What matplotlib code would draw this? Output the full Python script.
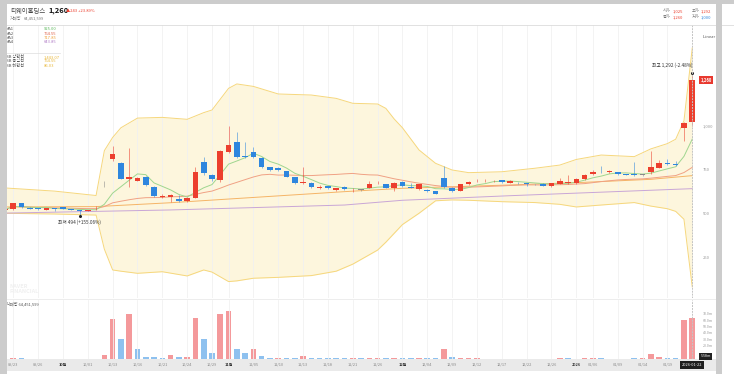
import numpy as np
import pandas as pd
import matplotlib.pyplot as plt
from matplotlib.patches import Rectangle

plt.rcParams['font.family'] = ['Noto Sans CJK KR', 'DejaVu Sans']

# daily candles, index 0 = first visible day
opens = [522, 528, 561, 532, 530, 523, 531, 538, 528, 523, 517, 526,
         686, 811, 788, 700, 689, 712, 655, 598, 595, 585, 574, 593,
         797, 722, 693, 854, 911, 830, 854, 820, 765, 763, 744, 708,
         674, 678, 648, 659, 638, 655, 640, 636, 649, 674, 669, 649,
         680, 649, 640, 634, 629, 703, 649, 632, 669, 686, 686, 686,
         691, 678, 676, 672, 670, 672, 661, 672, 676, 674, 699, 727,
         738, 737, 737, 726, 726, 722, 737, 763, 790, 784, 990, 1025]
highs = [535, 565, 565, 538, 532, 535, 533, 540, 530, 525, 525, 545,
         686, 886, 795, 873, 712, 715, 660, 615, 612, 606, 596, 769,
         826, 730, 862, 1000, 968, 911, 879, 822, 768, 766, 746, 710,
         769, 680, 662, 661, 650, 660, 648, 640, 690, 690, 672, 684,
         690, 676, 672, 640, 632, 773, 655, 672, 688, 700, 698, 692,
         695, 692, 682, 675, 672, 675, 678, 705, 722, 705, 725, 748,
         773, 750, 740, 730, 794, 725, 858, 807, 812, 801, 1025, 1292]
lows = [515, 525, 535, 526, 525, 520, 515, 528, 520, 494, 515, 524,
        655, 800, 698, 655, 685, 660, 595, 590, 570, 570, 570, 590,
        720, 690, 684, 845, 820, 818, 820, 760, 745, 745, 708, 670,
        670, 648, 640, 640, 632, 636, 625, 630, 645, 670, 645, 630,
        655, 645, 638, 625, 612, 645, 625, 630, 665, 684, 684, 684,
        678, 675, 670, 660, 665, 658, 655, 668, 672, 670, 695, 722,
        735, 733, 722, 720, 715, 718, 730, 760, 780, 775, 916, 1000]
closes = [525, 561, 538, 530, 528, 532, 529, 530, 523, 517, 523, 528,
          686, 839, 700, 708, 706, 665, 604, 602, 608, 576, 593, 737,
          731, 699, 858, 892, 826, 824, 826, 765, 750, 752, 712, 678,
          680, 655, 653, 646, 645, 640, 642, 636, 669, 676, 649, 678,
          657, 647, 669, 632, 614, 652, 632, 669, 684, 689, 689, 688,
          680, 689, 674, 670, 669, 661, 674, 689, 680, 699, 720, 740,
          737, 743, 726, 722, 721, 722, 769, 788, 783, 780, 1017, 1260]
volumes = [0.6, 1.2, 0.8, 0.4, 0.3, 0.3, 0.3, 0.4, 0.3, 0.5, 0.3, 0.5,
           6.0, 63, 32, 71, 16, 3.2, 3.0, 1.6, 6.0, 3.0, 3.5, 64,
           32, 9.0, 70, 75, 16, 9.0, 15, 4.0, 2.2, 2.2, 2.0, 2.0,
           5.0, 1.2, 1.2, 1.0, 1.0, 1.0, 0.9, 0.9, 1.2, 1.0, 1.0, 1.2,
           1.0, 1.0, 1.0, 1.2, 1.2, 15, 2.5, 2.0, 1.5, 1.0, 0.5, 0.5,
           0.5, 0.5, 0.5, 0.4, 0.4, 0.4, 0.5, 1.0, 1.0, 0.5, 1.0, 1.0,
           1.0, 0.6, 0.6, 0.5, 2.0, 0.8, 8.0, 2.5, 1.0, 1.0, 61, 64.45]

# bollinger band and long moving averages
band_idx = [0, 6, 11, 12, 13, 14, 16, 19, 22, 24, 25, 27, 28, 30, 33, 37, 40, 42,
            45, 46, 47, 48, 50, 52, 54, 56, 60, 64, 67, 69, 72, 76, 78, 80, 81, 82, 83]
band_up = [648, 630, 605, 860, 935, 990, 1045, 1049, 1038, 1076, 1091, 1214, 1239,
           1225, 1182, 1176, 1157, 1129, 1125, 1100, 1040, 990, 864, 788, 750, 735,
           740, 760, 778, 810, 835, 826, 870, 900, 925, 1030, 1443]
band_lo = [504, 500, 494, 300, 182, 175, 163, 172, 148, 182, 170, 116, 120, 135,
           140, 150, 175, 215, 295, 340, 390, 440, 504, 575, 580, 578, 570, 565,
           555, 540, 551, 565, 545, 530, 515, 470, 86]
ma3_idx = [0, 11, 20, 41, 48, 61, 70, 78, 83]
ma3_val = [540, 542, 564, 627, 646, 665, 680, 697, 718]
ma4_idx = [0, 20, 41, 48, 61, 83]
ma4_val = [505, 523, 551, 578, 604, 644]

tick_idx = [1, 4, 7, 10, 13, 16, 19, 22, 25, 27, 30, 33, 36, 39, 42, 45, 48, 51,
            54, 57, 60, 63, 66, 69, 71, 74, 77, 80]
tick_lab = ['09/23', '09/26', '10월', '10/01', '10/13', '10/16', '10/21', '10/24',
            '10/29', '11월', '11/05', '11/10', '11/13', '11/18', '11/21', '11/26',
            '12월', '12/04', '12/09', '12/12', '12/17', '12/22', '12/26', '2026',
            '01/06', '01/09', '01/14', '01/19']
bold_ticks = ['10월', '11월', '12월', '2026']

RED = '#ec3f2e'
BLUE = '#2e86de'
W, H = 734, 374


def fx(px):
    return px / W


def fy(py):
    return 1 - py / H


fig = plt.figure(figsize=(W / 100, H / 100), dpi=100)
fig.patch.set_facecolor('white')

x = np.arange(len(closes))
c = pd.Series(closes, dtype=float)
ma5 = c.rolling(5, min_periods=1).mean()
ma20 = c.rolling(20, min_periods=1).mean()

# ---------- price panel
ax = fig.add_axes([fx(0), fy(298), fx(697), (298 - 25) / H])
ax.set_xlim(-5 / 8.28, 692 / 8.28)
ax.set_ylim(22.7, 1573.9)
for s in ax.spines.values():
    s.set_visible(False)
ax.set_xticks(tick_idx)
ax.set_yticks([])
ax.tick_params(length=0, labelbottom=False)
ax.grid(axis='x', color='#f1f1f1', lw=0.6)

ax.fill_between(band_idx, band_lo, band_up, color='#fdf6dd', lw=0, zorder=1)
ax.plot(band_idx, band_up, color='#f6d77c', lw=0.7, zorder=2)
ax.plot(band_idx, band_lo, color='#f6d77c', lw=0.7, zorder=2)
ax.plot(ma4_idx, ma4_val, color='#c9a6d6', lw=0.7, zorder=3)
ax.plot(ma3_idx, ma3_val, color='#f5b466', lw=0.7, zorder=3)
ax.plot(x, ma20, color='#f0a184', lw=0.7, zorder=3)
ax.plot(x, ma5, color='#9fd68f', lw=0.7, zorder=3)

for i in range(len(closes)):
    o, h, l, cl = opens[i], highs[i], lows[i], closes[i]
    if cl > o:
        col = RED
    elif cl < o:
        col = BLUE
    else:
        col = '#8a8a8a'
    ax.vlines(i, l, h, color=col, lw=0.7, alpha=0.55, zorder=4)
    ax.bar(i, max(abs(cl - o), 4), bottom=min(o, cl), width=0.68, color=col, lw=0, zorder=5)

# high / low markers
imax = int(np.argmax(highs))
imin = int(np.argmin(lows))
ax.plot([imax], [highs[imax] + 10], 'o', ms=1.2, color='#222222', zorder=6)
ax.text(imax, highs[imax] + 38, '최고 {:,} (-2.48%)'.format(highs[imax]), fontsize=3.4,
        ha='right', va='bottom', color='#333333', zorder=6)
ax.plot([imin], [lows[imin] - 8], 'o', ms=1.2, color='#222222', zorder=6)
ax.text(imin, lows[imin] - 25, '최저 {:,} (+155.06%)'.format(lows[imin]), fontsize=3.4,
        ha='center', va='top', color='#333333', zorder=6)

ax.axvline(len(closes) - 1, color='#c4c4c4', lw=0.7, ls=(0, (2, 1)), zorder=7)

for v, lab in [(1000, '1,000'), (750, '750'), (500, '500'), (250, '250')]:
    ax.text(1.008, v, lab, transform=ax.get_yaxis_transform(), fontsize=3,
            color='#999999', ha='left', va='center')
ax.text(1.005, closes[-1], '{:,}'.format(closes[-1]), transform=ax.get_yaxis_transform(),
        fontsize=3, color='white', ha='left', va='center', fontweight='bold',
        bbox=dict(boxstyle='square,pad=0.35', fc='#e8392f', ec='none'))
ax.text(1.008, 1505, 'Linear ∨', transform=ax.get_yaxis_transform(), fontsize=3,
        color='#555555', ha='left', va='center')

# legend block
leg = [('MA1', '925.00', '#5cb85c'), ('MA2', '764.55', '#e0634a'),
       ('MA3', '717.85', '#f0a03c'), ('MA4', '643.85', '#b07cc6')]
for k, (n, val, col) in enumerate(leg):
    fig.text(fx(6), fy(29.5 + 4.3 * k), n, fontsize=3, color='#555555', va='center')
    fig.text(fx(44), fy(29.5 + 4.3 * k), val, fontsize=3, color=col, va='center')
fig.add_artist(plt.Line2D([fx(6), fx(60)], [fy(52.5), fy(52.5)], color='#dddddd', lw=0.5))
for k, (n, val) in enumerate([('BB 상한선', '1,443.07'), ('BB 중심선', '764.55'),
                              ('BB 하한선', '86.03')]):
    fig.text(fx(6), fy(57 + 4.3 * k), n, fontsize=3, color='#555555', va='center')
    fig.text(fx(44), fy(57 + 4.3 * k), val, fontsize=3, color='#e9b83c', va='center')

fig.text(fx(10), fy(289), 'NAVER\nFINANCIAL', fontsize=4, color='#f0f0f0',
         fontweight='bold', va='center', linespacing=0.9)

# ---------- volume panel
vax = fig.add_axes([fx(0), fy(359), fx(697), (359 - 300) / H])
vax.set_xlim(-5 / 8.28, 692 / 8.28)
vax.set_ylim(0, 92.2)
for s in vax.spines.values():
    s.set_visible(False)
vax.set_xticks(tick_idx)
vax.set_yticks([])
vax.tick_params(length=0, labelbottom=False)
vax.grid(axis='x', color='#f1f1f1', lw=0.6)
vcols = ['#f4999b' if i == 0 or closes[i] >= closes[i - 1] else '#8ec1ef'
         for i in range(len(closes))]
vax.bar(x, volumes, width=0.68, color=vcols, lw=0)
vax.axvline(len(closes) - 1, color='#c4c4c4', lw=0.7, ls=(0, (2, 1)))
for v in [70, 60, 50, 40, 30, 20]:
    vax.text(1.008, v, '{:.1f}m'.format(v), transform=vax.get_yaxis_transform(),
             fontsize=2.6, color='#999999', ha='left', va='center')
vax.text(1.005, 4, '5.58m', transform=vax.get_yaxis_transform(), fontsize=2.6,
         color='white', ha='left', va='center',
         bbox=dict(boxstyle='square,pad=0.35', fc='#222222', ec='none'))
fig.text(fx(6), fy(304), '거래량 {:,}'.format(64451599), fontsize=3, color='#555555',
         va='center')

# ---------- x axis strip
fig.add_artist(Rectangle((0, fy(371)), fx(716), (371 - 359) / H, transform=fig.transFigure,
                         fc='#eaeaea', ec='none', zorder=0))
for i, lab in zip(tick_idx, tick_lab):
    px = 5 + 8.28 * i
    fig.text(fx(px), fy(365), lab, fontsize=2.8, ha='center', va='center',
             color='#333333' if lab in bold_ticks else '#888888',
             fontweight='bold' if lab in bold_ticks else 'normal')
fig.text(fx(5 + 8.28 * 83), fy(365), '2026-01-22', fontsize=2.8, ha='center', va='center',
         color='white', bbox=dict(boxstyle='square,pad=0.5', fc='#1e1e1e', ec='none'))

# ---------- header
fig.add_artist(plt.Line2D([0, 1], [fy(24.5), fy(24.5)], color='#dcdcdc', lw=0.6))
fig.add_artist(plt.Line2D([0, fx(716)], [fy(299), fy(299)], color='#e6e6e6', lw=0.5))
fig.text(fx(10), fy(10.5), '티웨이홀딩스', fontsize=4.6, color='#444444', va='center')
fig.text(fx(48), fy(10.5), '1,260', fontsize=5.4, color='#111111', va='center',
         fontweight='bold')
fig.text(fx(66), fy(10.5), '▲243 +23.89%', fontsize=3, color=RED, va='center')
fig.text(fx(10), fy(18), '거래량', fontsize=3, color='#777777', va='center')
fig.text(fx(24), fy(18), '64,451,599', fontsize=3, color='#777777', va='center')
fig.text(fx(663), fy(11.5), '시가', fontsize=3, color='#777777', va='center')
fig.text(fx(673), fy(11.5), '1,025', fontsize=3, color=RED, va='center')
fig.text(fx(692), fy(11.5), '고가', fontsize=3, color='#777777', va='center')
fig.text(fx(701), fy(11.5), '1,292', fontsize=3, color=RED, va='center')
fig.text(fx(663), fy(17.5), '종가', fontsize=3, color='#777777', va='center')
fig.text(fx(673), fy(17.5), '1,260', fontsize=3, color=RED, va='center')
fig.text(fx(692), fy(17.5), '저가', fontsize=3, color='#777777', va='center')
fig.text(fx(701), fy(17.5), '1,000', fontsize=3, color=BLUE, va='center')

# grey frame strips
for rx, ry, rw, rh in [(0, 0, 7, 374), (0, 0, 734, 4), (716, 0, 6, 374)]:
    fig.add_artist(Rectangle((fx(rx), fy(ry + rh)), rw / W, rh / H, transform=fig.transFigure,
                             fc='#cccccc', ec='none', zorder=10))

fig.savefig('out.png', dpi=100)
